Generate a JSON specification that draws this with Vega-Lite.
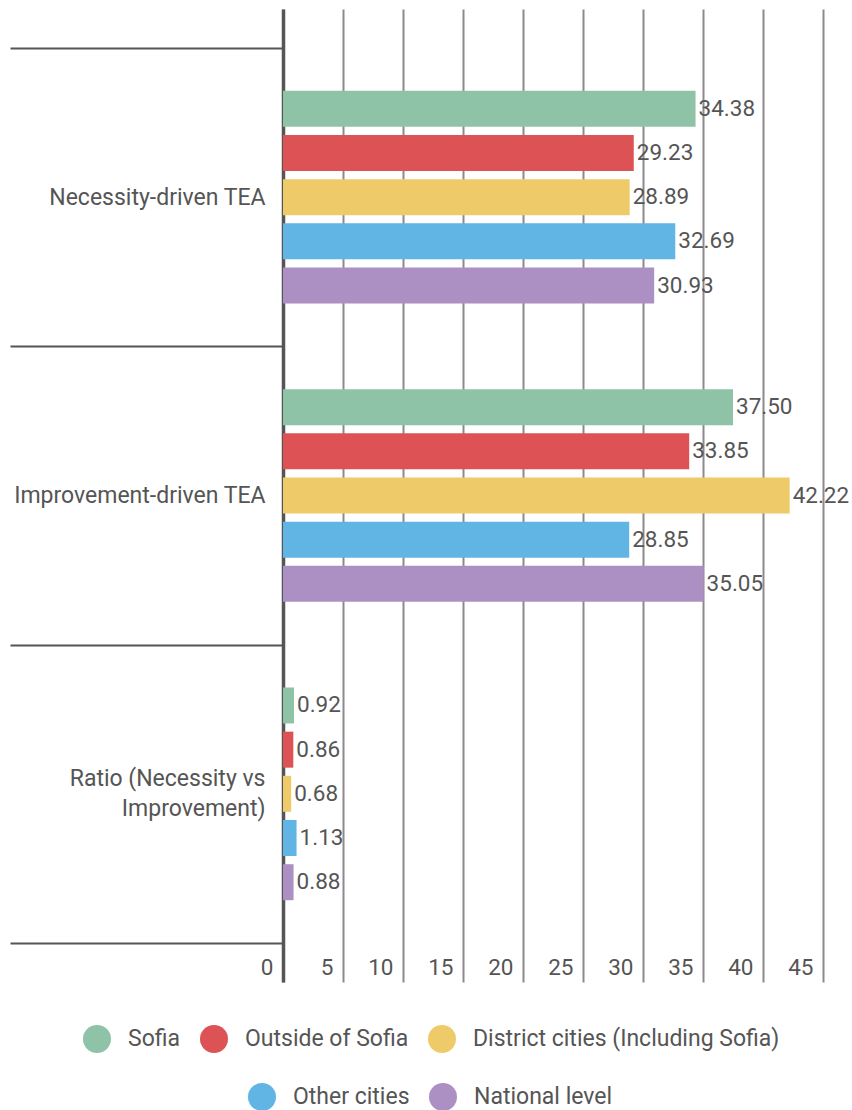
{
  "$schema": "https://vega.github.io/schema/vega-lite/v6.json",
  "width": 540,
  "height": 973,
  "padding": {"left": 9, "top": -2, "right": 3, "bottom": 0},
  "autosize": {"type": "pad"},
  "background": "#ffffff",
  "data": {
    "values": [
      {"category": "Necessity-driven TEA", "series": "Sofia", "value": 34.38},
      {"category": "Necessity-driven TEA", "series": "Outside of Sofia", "value": 29.23},
      {"category": "Necessity-driven TEA", "series": "District cities (Including Sofia)", "value": 28.89},
      {"category": "Necessity-driven TEA", "series": "Other cities", "value": 32.69},
      {"category": "Necessity-driven TEA", "series": "National level", "value": 30.93},
      {"category": "Improvement-driven TEA", "series": "Sofia", "value": 37.50},
      {"category": "Improvement-driven TEA", "series": "Outside of Sofia", "value": 33.85},
      {"category": "Improvement-driven TEA", "series": "District cities (Including Sofia)", "value": 42.22},
      {"category": "Improvement-driven TEA", "series": "Other cities", "value": 28.85},
      {"category": "Improvement-driven TEA", "series": "National level", "value": 35.05},
      {"category": "Ratio (Necessity vs Improvement)", "series": "Sofia", "value": 0.92},
      {"category": "Ratio (Necessity vs Improvement)", "series": "Outside of Sofia", "value": 0.86},
      {"category": "Ratio (Necessity vs Improvement)", "series": "District cities (Including Sofia)", "value": 0.68},
      {"category": "Ratio (Necessity vs Improvement)", "series": "Other cities", "value": 1.13},
      {"category": "Ratio (Necessity vs Improvement)", "series": "National level", "value": 0.88}
    ]
  },
  "encoding": {
    "y": {
      "field": "category",
      "type": "nominal",
      "sort": null,
      "title": null,
      "scale": {"paddingInner": 0, "paddingOuter": 0.1307},
      "axis": {
        "tickBand": "extent",
        "ticks": true,
        "tickSize": 273,
        "tickWidth": 2,
        "tickColor": "#555555",
        "domainColor": "#555555",
        "domainWidth": 3.5,
        "labelPadding": -255,
        "labelFont": "Roboto",
        "labelFontSize": 23,
        "labelColor": "#555555",
        "labelLimit": 0,
        "labelLineHeight": 30,
        "labelAlign": "right",
        "labelBaseline": "middle",
        "labelOffset": {
          "condition": {"test": "datum.value == 'Ratio (Necessity vs Improvement)'", "value": -15},
          "value": 0
        },
        "labelExpr": "datum.value == 'Ratio (Necessity vs Improvement)' ? ['Ratio (Necessity vs', 'Improvement)'] : datum.value"
      }
    },
    "yOffset": {
      "field": "series",
      "type": "nominal",
      "scale": {
        "domain": ["Sofia", "Outside of Sofia", "District cities (Including Sofia)", "Other cities", "National level"],
        "paddingInner": 0.185,
        "paddingOuter": 0.969
      }
    },
    "x": {
      "field": "value",
      "type": "quantitative",
      "title": null,
      "scale": {"domain": [0, 45], "nice": false, "zero": true},
      "axis": {
        "values": [0, 5, 10, 15, 20, 25, 30, 35, 40, 45],
        "grid": true,
        "gridColor": "#8e8a8b",
        "gridWidth": 2,
        "domain": false,
        "ticks": false,
        "labelFlush": false,
        "labelOverlap": false,
        "labelAlign": "right",
        "labelBaseline": "middle",
        "labelOffset": -10,
        "labelPadding": -15,
        "labelFont": "Roboto",
        "labelFontSize": 22.5,
        "labelColor": "#555555"
      }
    }
  },
  "layer": [
    {
      "transform": [{"filter": {"field": "series", "oneOf": ["Sofia", "Outside of Sofia", "District cities (Including Sofia)"]}}],
      "mark": {"type": "bar"},
      "encoding": {
        "color": {
          "field": "series",
          "type": "nominal",
          "scale": {
            "domain": ["Sofia", "Outside of Sofia", "District cities (Including Sofia)"],
            "range": ["#8ec3a7", "#dd5355", "#efca68"]
          },
          "legend": {"title": null, "orient": "none", "direction": "horizontal", "legendX": -200, "legendY": 1016}
        }
      }
    },
    {
      "transform": [{"filter": {"field": "series", "oneOf": ["Other cities", "National level"]}}],
      "mark": {"type": "bar"},
      "encoding": {
        "fill": {
          "field": "series",
          "type": "nominal",
          "scale": {
            "domain": ["Other cities", "National level"],
            "range": ["#60b5e5", "#ac90c4"]
          },
          "legend": {"title": null, "orient": "none", "direction": "horizontal", "legendX": -35, "legendY": 1074}
        }
      }
    },
    {
      "mark": {
        "type": "text",
        "align": "left",
        "baseline": "middle",
        "dx": 3,
        "font": "Roboto",
        "fontSize": 22.5,
        "color": "#555555"
      },
      "encoding": {
        "text": {"field": "value", "type": "quantitative", "format": ".2f"}
      }
    }
  ],
  "config": {
    "view": {"stroke": null},
    "legend": {
      "symbolType": "circle",
      "symbolSize": 784,
      "symbolStrokeWidth": 0,
      "labelFont": "Roboto",
      "labelFontSize": 23,
      "labelColor": "#555555",
      "labelLimit": 0,
      "labelOffset": 17,
      "columnPadding": 19
    }
  }
}
